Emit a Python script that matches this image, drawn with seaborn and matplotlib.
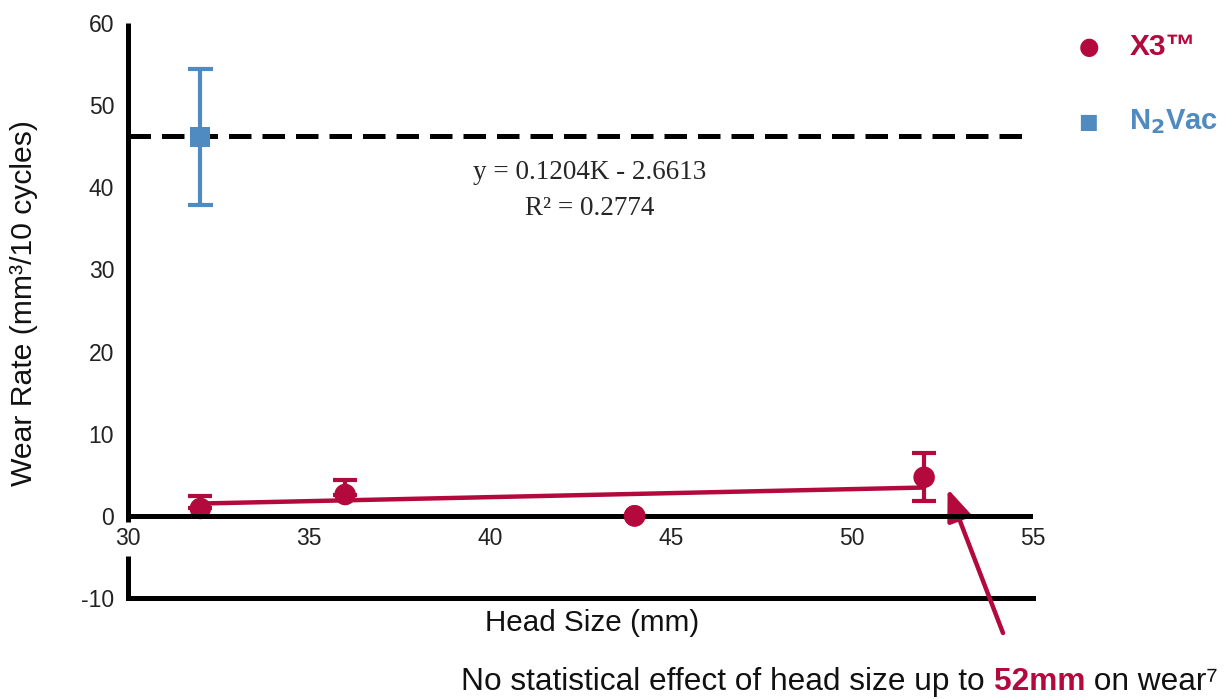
import matplotlib
matplotlib.use("Agg")
import numpy as np
import pandas as pd
import matplotlib.pyplot as plt
import seaborn as sns
from matplotlib.offsetbox import TextArea, HPacker, AnchoredOffsetbox

# -------------------------
# Data
# -------------------------
x3_head = [32, 36, 44, 52]
x3_wear = [0.9, 2.6, 0.0, 4.7]
x3_err_low = [0.0, 0.0, 0.0, 2.9]
x3_err_high = [1.5, 1.8, 0.0, 2.9]

n2_head = [32]
n2_wear = [46.1]
n2_err = [8.3]
n2_mean_line = 46.3

trend_x = [32, 52]
trend_y = [1.5, 3.45]

x_ticks = [30, 35, 40, 45, 50, 55]
y_ticks = [-10, 0, 10, 20, 30, 40, 50, 60]

RED = "#B3093D"
BLUE = "#4F8AC1"

sns.set_style("white")
plt.rcParams["font.family"] = ["Liberation Sans", "DejaVu Sans"]

fig = plt.figure(figsize=(12.25, 6.99), dpi=100)
ax = fig.add_axes([0.1045, 0.1445, 0.7385, 0.8225])

x3 = pd.DataFrame({"head": x3_head, "wear": x3_wear})
n2 = pd.DataFrame({"head": n2_head, "wear": n2_wear})
trend = pd.DataFrame({"head": trend_x, "wear": trend_y})

# -------------------------
# Marks
# -------------------------
ax.axhline(n2_mean_line, color="black", lw=3.6, ls=(0, (4.5, 2.2)), zorder=2)

ax.errorbar(n2_head, n2_wear, yerr=n2_err, fmt="none", ecolor=BLUE,
            elinewidth=3, capsize=9, capthick=3, zorder=3)
sns.scatterplot(data=n2, x="head", y="wear", marker="s", s=210, color=BLUE,
                edgecolor="none", ax=ax, zorder=4, legend=False)

sns.lineplot(data=trend, x="head", y="wear", color=RED, lw=3.2, ax=ax, zorder=3)
ax.errorbar(x3_head, x3_wear, yerr=[x3_err_low, x3_err_high], fmt="none",
            ecolor=RED, elinewidth=3, capsize=8.5, capthick=3, zorder=3)
sns.scatterplot(data=x3, x="head", y="wear", marker="o", s=240, color=RED,
                edgecolor="none", ax=ax, zorder=4, legend=False)
# points sitting on the zero line are drawn over it
sns.scatterplot(data=x3[x3["wear"] == 0], x="head", y="wear", marker="o", s=240,
                color=RED, edgecolor="none", ax=ax, zorder=6, legend=False)

# -------------------------
# Axes styling
# -------------------------
ax.set_xlim(30, 55)
ax.set_ylim(-10, 60)
for s in ["top", "right", "left"]:
    ax.spines[s].set_visible(False)
ax.spines["bottom"].set_linewidth(3.6)
ax.spines["bottom"].set_color("black")

# zero line with x tick labels beneath it
ax.axhline(0, color="black", lw=3.6, zorder=5)
# broken left spine
ax.plot([30, 30], [60, -0.7], color="black", lw=3.6, clip_on=False,
        solid_capstyle="butt", zorder=5)
ax.plot([30, 30], [-4.9, -10], color="black", lw=3.6, clip_on=False,
        solid_capstyle="butt", zorder=5)

ax.set_yticks(y_ticks)
ax.set_yticklabels([str(v) for v in y_ticks], fontsize=16.5, color="#222222")
ax.tick_params(axis="y", length=0, pad=10)
ax.set_xticks(x_ticks)
ax.set_xticklabels([])
ax.tick_params(axis="x", length=0)
for v in x_ticks:
    ax.text(v, -1.3, str(v), ha="center", va="top", fontsize=16.5,
            color="#222222")

ax.set_xlabel("Head Size (mm)", fontsize=21.3, color="#111111", va="center")
ax.xaxis.set_label_coords(0.513, -0.0435)
ax.set_ylabel("Wear Rate (mm\u00b3/10 cycles)", fontsize=21.7, color="#111111",
              va="center")
ax.yaxis.set_label_coords(-0.115, 0.513)

# equation
ax.text(42.75, 41.8, "y = 0.1204K - 2.6613", ha="center", va="center",
        fontsize=19.5, family=["Liberation Serif"])
ax.text(42.75, 37.4, "R\u00b2 = 0.2774", ha="center", va="center",
        fontsize=19.5, family=["Liberation Serif"])

# -------------------------
# Legend (outside, right)
# -------------------------
fig.text(0.889, 0.933, "\u25CF", color=RED, fontsize=17, ha="center", va="center",
         family=["DejaVu Sans"])
fig.text(0.922, 0.933, "X3\u2122", color=RED, fontsize=21.5, fontweight="bold",
         ha="left", va="center")
fig.text(0.888, 0.825, "\u25A0", color=BLUE, fontsize=15, ha="center", va="center",
         family=["DejaVu Sans"])
fig.text(0.922, 0.826, "N$_\\mathbf{2}$Vac", color=BLUE, fontsize=21,
         fontweight="bold", ha="left", va="center")

# -------------------------
# Arrow + bottom note
# -------------------------
ax.annotate("", xy=(52.65, 3.3), xytext=(1003, 66), textcoords="figure pixels",
            arrowprops=dict(arrowstyle="-|>,head_length=1.9,head_width=0.75",
                            color=RED, lw=3.2, shrinkA=0, shrinkB=0),
            annotation_clip=False)

parts = [
    TextArea("No statistical effect of head size up to ",
             textprops=dict(fontsize=22.8, color="#111111")),
    TextArea("52mm", textprops=dict(fontsize=22.8, color=RED, fontweight="bold")),
    TextArea(" on wear\u2077", textprops=dict(fontsize=22.8, color="#111111")),
]
box = HPacker(children=parts, align="baseline", pad=0, sep=0)
anch = AnchoredOffsetbox(loc="lower right", child=box, frameon=False,
                         bbox_to_anchor=(1218, 2), bbox_transform=None, pad=0,
                         borderpad=0)
fig.add_artist(anch)

fig.savefig("out.png", dpi=100)
